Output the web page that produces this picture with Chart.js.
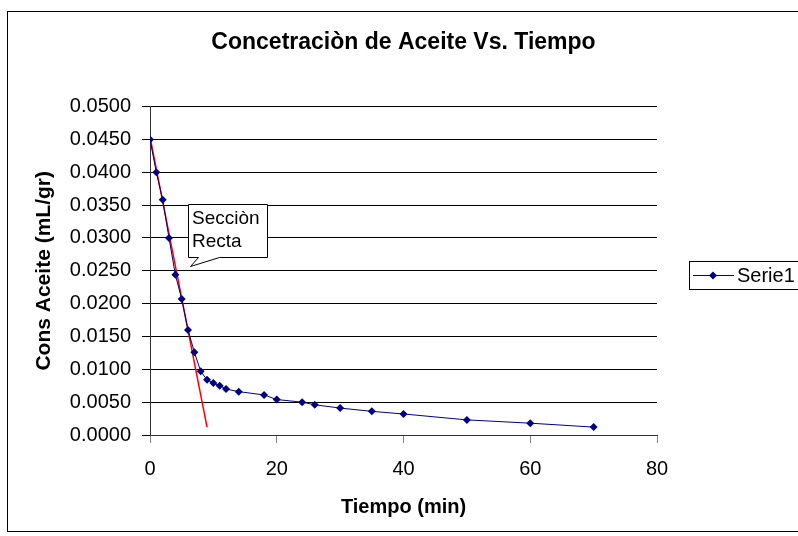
<!DOCTYPE html>
<html>
<head>
<meta charset="utf-8">
<script src="https://cdn.jsdelivr.net/npm/chart.js@4/dist/chart.umd.min.js"></script>
<style>
    body { margin: 0; background: #fff; overflow: hidden; }
    #wrap { width: 798px; height: 536px; }
</style>
</head>
<body>
<div id="wrap"><canvas id="aceiteChart" width="798" height="536"></canvas></div>
<script>
// Datos
const tiempo = [0, 1, 2, 3, 4, 5, 6, 7, 8, 9, 10, 11, 12, 14, 18, 20, 24, 26, 30, 35, 40, 50, 60, 70];
const concentracion = [0.0450, 0.0400, 0.0358, 0.0300, 0.0244, 0.0207, 0.0160, 0.0126, 0.0097, 0.0084,
    0.0079, 0.0075, 0.0070, 0.0066, 0.0061, 0.0054, 0.0050, 0.0046, 0.0041, 0.0036, 0.0032, 0.0023, 0.0018, 0.0012];

// Seccion recta (linea roja)
const rectaTiempo = [0, 9];
const rectaConc = [0.0454, 0.0012];

const xTicks = [0, 20, 40, 60, 80];
const yTicks = [0, 0.005, 0.01, 0.015, 0.02, 0.025, 0.03, 0.035, 0.04, 0.045, 0.05];

const FONT = "'Liberation Sans', Arial, sans-serif";
Chart.defaults.font.family = FONT;
Chart.defaults.color = '#000';

// Borde exterior, globo de texto y leyenda
const extrasPlugin = {
    id: 'extras',
    afterDraw(chart) {
        const ctx = chart.ctx;
        ctx.save();

        // marco del grafico
        ctx.strokeStyle = '#000';
        ctx.lineWidth = 1;
        ctx.strokeRect(7.5, 11.5, 820, 520);

        // globo "Seccion Recta"
        ctx.beginPath();
        ctx.moveTo(188.5, 204.5);
        ctx.lineTo(267.5, 204.5);
        ctx.lineTo(267.5, 257.5);
        ctx.lineTo(219.5, 257.5);
        ctx.lineTo(190.5, 266.5);
        ctx.lineTo(198.5, 257.5);
        ctx.lineTo(188.5, 257.5);
        ctx.closePath();
        ctx.fillStyle = '#fff';
        ctx.fill();
        ctx.stroke();
        ctx.fillStyle = '#000';
        ctx.font = '19px ' + FONT;
        ctx.textBaseline = 'middle';
        ctx.textAlign = 'left';
        ctx.fillText('Secciòn', 192, 219);
        ctx.fillText('Recta', 192, 242);

        // leyenda
        ctx.strokeRect(689.5, 261.5, 140, 28);
        ctx.strokeStyle = '#000080';
        ctx.beginPath();
        ctx.moveTo(693, 275.5);
        ctx.lineTo(734, 275.5);
        ctx.stroke();
        ctx.fillStyle = '#000080';
        ctx.beginPath();
        ctx.moveTo(713, 271.5);
        ctx.lineTo(717, 275.5);
        ctx.lineTo(713, 279.5);
        ctx.lineTo(709, 275.5);
        ctx.closePath();
        ctx.fill();
        ctx.fillStyle = '#000';
        ctx.font = '20px ' + FONT;
        ctx.fillText('Serie1', 737, 276);

        ctx.restore();
    }
};

const ctx = document.getElementById('aceiteChart').getContext('2d');
new Chart(ctx, {
    type: 'scatter',
    data: {
        datasets: [
            {
                label: 'Serie1',
                data: tiempo.map((t, i) => ({ x: t, y: concentracion[i] })),
                showLine: true,
                borderColor: '#000080',
                borderWidth: 1,
                backgroundColor: '#000080',
                pointStyle: 'rectRot',
                pointRadius: 4,
                pointBorderWidth: 0
            },
            {
                label: 'Recta',
                data: rectaTiempo.map((t, i) => ({ x: t, y: rectaConc[i] })),
                showLine: true,
                borderColor: '#ff0000',
                borderWidth: 1.5,
                pointRadius: 0
            }
        ]
    },
    options: {
        responsive: false,
        animation: false,
        layout: { padding: { left: 0, right: 141, top: 0, bottom: 0 } },
        plugins: {
            legend: { display: false },
            tooltip: { enabled: false },
            title: {
                display: true,
                fullSize: false,
                text: 'Concetraciòn de Aceite Vs. Tiempo',
                font: { size: 23, weight: 'bold' },
                color: '#000',
                padding: { top: 29, bottom: 50 }
            }
        },
        scales: {
            x: {
                type: 'linear',
                min: 0,
                max: 80,
                afterBuildTicks: axis => { axis.ticks = xTicks.map(v => ({ value: v })); },
                afterFit: axis => { axis.height = 101; },
                ticks: { font: { size: 20 }, padding: 14, maxRotation: 0 },
                grid: { drawOnChartArea: false, drawTicks: true, tickLength: 8, color: '#808080' },
                border: { color: '#333', width: 1 },
                title: {
                    display: true,
                    text: 'Tiempo (min)',
                    font: { size: 20, weight: 'bold' },
                    padding: { top: 0, bottom: 17 }
                }
            },
            y: {
                type: 'linear',
                min: 0,
                max: 0.05,
                afterBuildTicks: axis => { axis.ticks = yTicks.map(v => ({ value: v })); },
                afterFit: axis => { axis.width = 150; },
                ticks: {
                    font: { size: 20 },
                    padding: 11,
                    callback: v => v.toFixed(4)
                },
                grid: { color: '#000', tickLength: 8, drawTicks: true },
                border: { color: '#333', width: 1 },
                title: {
                    display: true,
                    text: 'Cons Aceite (mL/gr)',
                    font: { size: 21, weight: 'bold' },
                    padding: { top: 32, bottom: 0 }
                }
            }
        }
    },
    plugins: [extrasPlugin]
});
</script>
</body>
</html>
